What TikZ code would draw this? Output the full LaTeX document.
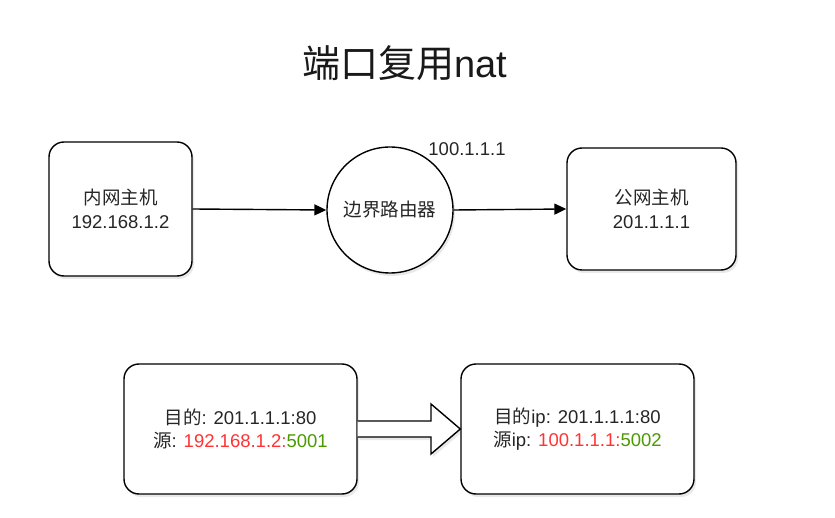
\documentclass[tikz,border=0pt]{standalone}
\usepackage{fontspec}
\setmainfont{Liberation Sans}
\newfontfamily\zhfont{Noto Sans CJK SC}
\newcommand{\zh}[1]{{\zhfont #1}}
\usetikzlibrary{arrows.meta,shadows,calc}
\definecolor{myred}{HTML}{FF3333}
\definecolor{mygreen}{HTML}{4D9900}
\begin{document}
\begin{tikzpicture}[x=1pt,y=-1pt,
  every node/.style={font=\fontsize{18.5}{23.5}\selectfont, text=black!85},
  shade/.style={drop shadow={shadow xshift=2pt,shadow yshift=-3pt,opacity=0.12,fill=black!70}},
  hostbox/.style={draw=black, line width=1.4pt, rounded corners=15pt, fill=white, shade, align=center},
  router/.style={draw=black, line width=1.4pt, circle, fill=white, shade, align=center, inner sep=0pt},
  conn/.style={-{Triangle[length=12pt,width=11pt]}, line width=1.4pt}]
\useasboundingbox (0,0) rectangle (835,518);
\node[font=\fontsize{38}{44}\selectfont, text=black!90] (title) at (405,63) {\zh{端口复用}nat};
\node[hostbox, minimum width=143pt, minimum height=134pt] (inner) at (120.5,209) {\zh{内网主机}\\192.168.1.2};
\node[router, minimum size=126pt] (router) at (390,210) {\zh{边界路由器}};
\node[hostbox, minimum width=169pt, minimum height=122pt] (outer) at (651.5,209) {\zh{公网主机}\\201.1.1.1};
\node (ip) at (467,149) {100.1.1.1};
\draw[conn] (inner.east) -- (router.west);
\draw[conn] (router.east) -- (outer.west);
\node[hostbox, minimum width=233pt, minimum height=130pt] (before) at (240.5,429) {\zh{目的}: 201.1.1.1:80\\\zh{源}: \textcolor{myred}{192.168.1.2:}\textcolor{mygreen}{5001}};
\node[hostbox, minimum width=233pt, minimum height=130pt] (after) at (577.5,429) {\zh{目的}ip: 201.1.1.1:80\\\zh{源}ip: \textcolor{myred}{100.1.1.1:}\textcolor{mygreen}{5002}};
\coordinate (a0) at (before.east);
\coordinate (a1) at (after.west);
\draw[line width=1.4pt, fill=white, shade, line join=miter]
  ($(a0)+(0,-8)$) -- (431,421) -- (431,404) -- (a1) -- (431,454) -- (431,437) -- ($(a0)+(0,8)$);
\end{tikzpicture}
\end{document}
